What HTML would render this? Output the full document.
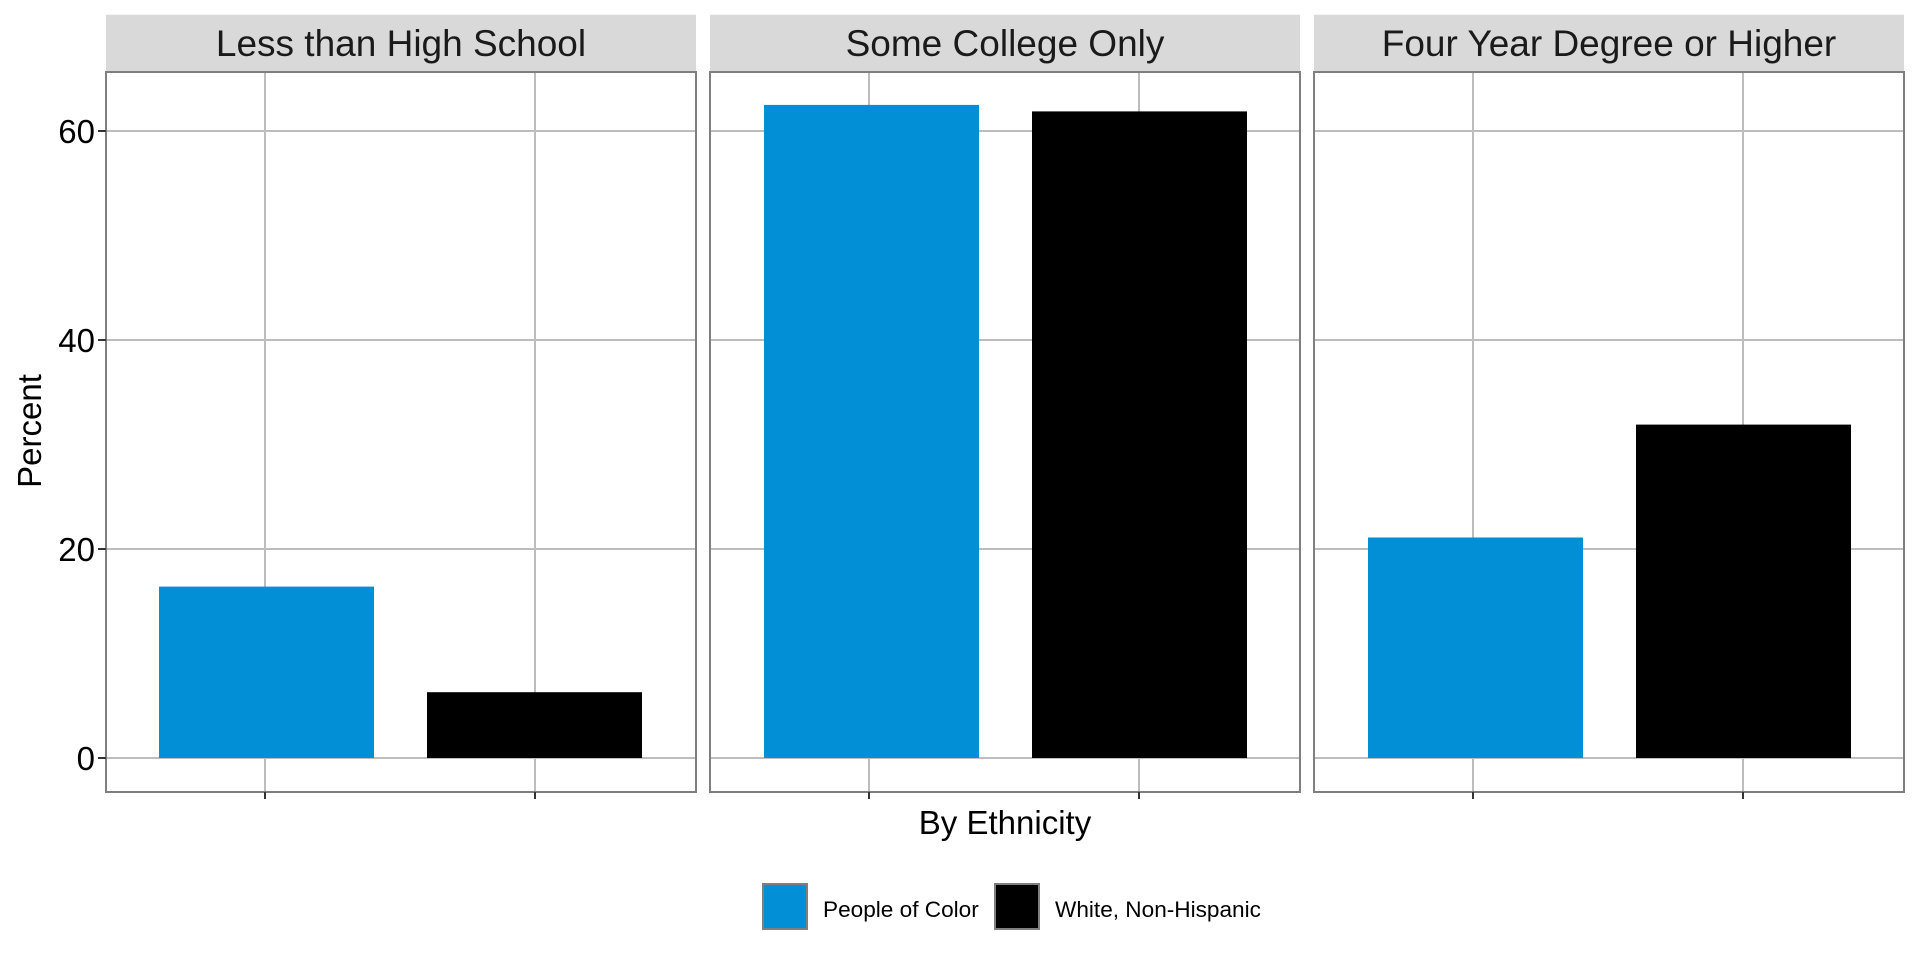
<!DOCTYPE html>
<html><head><style>body{margin:0;background:#fff}svg{display:block}</style></head>
<body>
<svg width="1920" height="960" viewBox="0 0 1920 960" xmlns="http://www.w3.org/2000/svg" font-family="Liberation Sans, Arial, sans-serif">
<rect width="1920" height="960" fill="#fff"/>
<g id="p1" transform="translate(106,0)">
  <rect x="0" y="14.7" width="590" height="57.3" fill="#d9d9d9"/>
  <g stroke="#bdbdbd" stroke-width="2">
    <line x1="0" x2="590" y1="758" y2="758"/><line x1="0" x2="590" y1="549" y2="549"/><line x1="0" x2="590" y1="340" y2="340"/><line x1="0" x2="590" y1="131" y2="131"/>
    <line x1="159" x2="159" y1="72" y2="792"/><line x1="429" x2="429" y1="72" y2="792"/>
  </g>
</g>
<use href="#p1" x="604"/>
<use href="#p1" x="1208"/>
<rect x="159" y="586.6" width="215" height="171.4" fill="#038fd5"/>
<rect x="427" y="692.2" width="215" height="65.8" fill="#000"/>
<rect x="764" y="104.9" width="215" height="653.1" fill="#038fd5"/>
<rect x="1032" y="111.4" width="215" height="646.6" fill="#000"/>
<rect x="1368" y="537.5" width="215" height="220.5" fill="#038fd5"/>
<rect x="1636" y="424.6" width="215" height="333.4" fill="#000"/>
<g fill="none" stroke="#7f7f7f" stroke-width="2">
  <rect x="106" y="72" width="590" height="720"/>
  <rect x="710" y="72" width="590" height="720"/>
  <rect x="1314" y="72" width="590" height="720"/>
</g>
<g font-size="37" fill="#1a1a1a" text-anchor="middle">
  <text x="401" y="56">Less than High School</text>
  <text x="1005" y="56">Some College Only</text>
  <text x="1609" y="56">Four Year Degree or Higher</text>
</g>
<g stroke="#333" stroke-width="2">
  <line x1="98" x2="106" y1="758" y2="758"/><line x1="98" x2="106" y1="549" y2="549"/><line x1="98" x2="106" y1="340" y2="340"/><line x1="98" x2="106" y1="131" y2="131"/>
  <line x1="265" x2="265" y1="792" y2="799"/><line x1="535" x2="535" y1="792" y2="799"/>
  <line x1="869" x2="869" y1="792" y2="799"/><line x1="1139" x2="1139" y1="792" y2="799"/>
  <line x1="1473" x2="1473" y1="792" y2="799"/><line x1="1743" x2="1743" y1="792" y2="799"/>
</g>
<g font-size="33" fill="#000" text-anchor="end">
  <text x="95" y="770">0</text><text x="95" y="561">20</text><text x="95" y="352">40</text><text x="95" y="143">60</text>
</g>
<text x="0" y="0" font-size="33" text-anchor="middle" transform="translate(41,431) rotate(-90)">Percent</text>
<text x="1005" y="834" font-size="33" text-anchor="middle">By Ethnicity</text>
<rect x="763" y="884" width="44" height="45" fill="#038fd5" stroke="#7f7f7f" stroke-width="2"/>
<text x="823" y="917" font-size="22.6">People of Color</text>
<rect x="995" y="884" width="44" height="45" fill="#000" stroke="#7f7f7f" stroke-width="2"/>
<text x="1055" y="917" font-size="22.6">White, Non-Hispanic</text>
</svg>
</body></html>
